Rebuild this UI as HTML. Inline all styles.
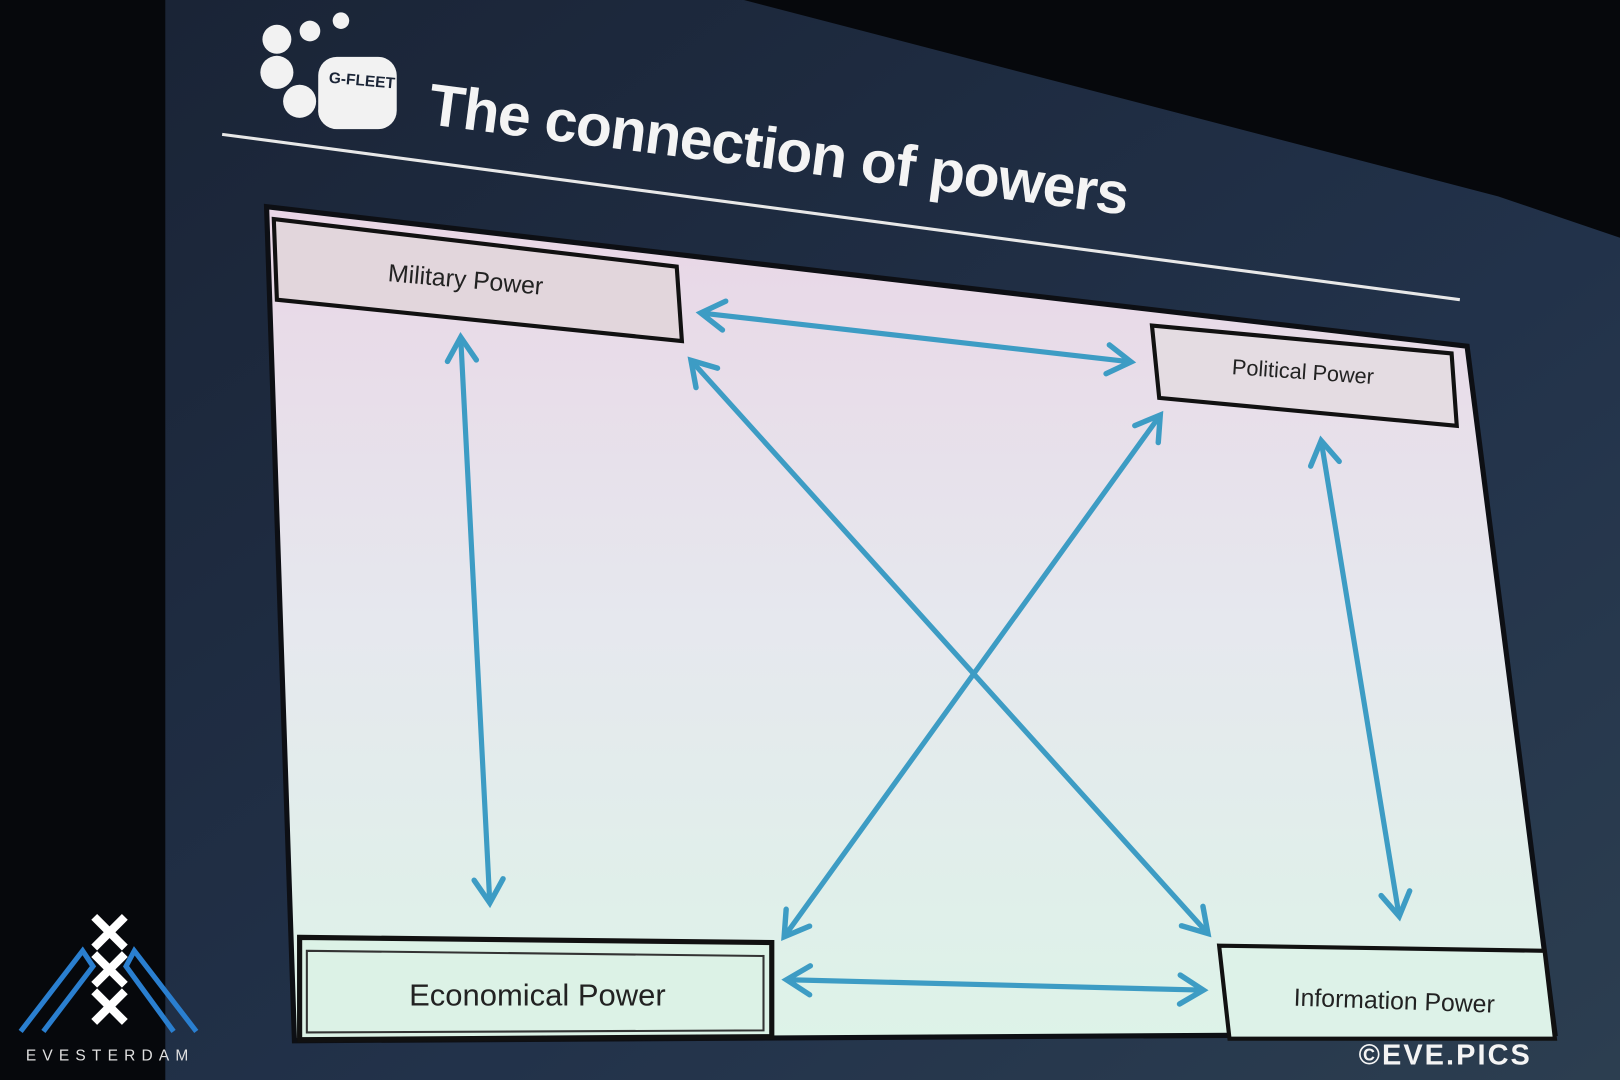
<!DOCTYPE html>
<html><head><meta charset="utf-8"><style>
html,body{margin:0;padding:0;background:#05070b;overflow:hidden}
svg{display:block}
</style></head><body>
<svg width="1620" height="1080" viewBox="0 0 1568 1045" preserveAspectRatio="none" xmlns="http://www.w3.org/2000/svg">
<defs>
<linearGradient id="bg" x1="0" y1="0" x2="0" y2="1">
<stop offset="0" stop-color="#e9d6e6"/><stop offset="0.5" stop-color="#e6e8ee"/><stop offset="1" stop-color="#ddf3e8"/>
</linearGradient>
<linearGradient id="scr" x1="0" y1="0" x2="1" y2="1">
<stop offset="0" stop-color="#1a2436"/><stop offset="0.6" stop-color="#22324a"/><stop offset="1" stop-color="#2c3e50"/>
</linearGradient>
<marker id="ah" viewBox="0 0 20 20" refX="14" refY="10" markerWidth="7" markerHeight="7" orient="auto-start-reverse" markerUnits="strokeWidth">
<path d="M2 2 L15 10 L2 18" fill="none" stroke="#3d9cc4" stroke-width="3" stroke-linecap="round"/>
</marker>
</defs>
<rect width="1568" height="1045" fill="#06080c"/>
<polygon points="160,0 720,0 1450,190 1568,230 1568,1045 160,1045" fill="url(#scr)"/>
<!-- logo dots -->
<g fill="#f2f2f2">
<circle cx="268" cy="38" r="14"/><circle cx="268" cy="70" r="16"/><circle cx="290" cy="98" r="16"/><circle cx="322" cy="108" r="14"/>
<circle cx="300" cy="30" r="10"/><circle cx="330" cy="20" r="8"/>
<rect x="308" y="55" width="76" height="70" rx="18"/>
</g>
<text x="318" y="80" font-family="Liberation Sans,sans-serif" font-weight="bold" font-size="15" fill="#1a2436" transform="rotate(5 318 80)">G-FLEET</text>
<line x1="215" y1="130" x2="1413" y2="290" stroke="#e8e8e8" stroke-width="3"/>
<text x="413" y="120" font-family="Liberation Sans,sans-serif" font-weight="bold" font-size="57" letter-spacing="-1" fill="#f4f4f4" transform="rotate(7.4 413 120)">The connection of powers</text>
<!-- panel -->
<polygon points="258,200 1420,335 1505,1000 285,1007" fill="url(#bg)" stroke="#0d0f14" stroke-width="5"/>
<!-- boxes -->
<polygon points="265,212 655,258 660,330 268,290" fill="#e2d6dc" stroke="#111" stroke-width="4"/>
<text x="375" y="272" font-family="Liberation Sans,sans-serif" font-size="24" fill="#222" transform="rotate(5 375 272)">Military Power</text>
<polygon points="1115,315 1405,342 1410,412 1122,385" fill="#e4dce2" stroke="#111" stroke-width="4"/>
<text x="1192" y="362" font-family="Liberation Sans,sans-serif" font-size="21" fill="#222" transform="rotate(4 1192 362)">Political Power</text>
<polygon points="290,907 747,912 747,1003 290,1006" fill="#dcf2e6" stroke="#111" stroke-width="5"/>
<polygon points="297,920 739,925 739,997 297,999" fill="none" stroke="#333" stroke-width="2"/>
<text x="396" y="973" font-family="Liberation Sans,sans-serif" font-size="30" fill="#222">Economical Power</text>
<polygon points="1180,915 1495,920 1505,1005 1190,1005" fill="#ddf2e8" stroke="#111" stroke-width="4"/>
<text x="1252" y="973" font-family="Liberation Sans,sans-serif" font-size="24" fill="#222" transform="rotate(2 1252 973)">Information Power</text>
<!-- arrows -->
<g stroke="#3d9cc4" stroke-width="5" fill="none" stroke-linecap="round" marker-start="url(#ah)" marker-end="url(#ah)">
<line x1="680" y1="303" x2="1093" y2="350"/>
<line x1="446" y1="328" x2="474" y2="872"/>
<line x1="670" y1="350" x2="1168" y2="902"/>
<line x1="1122" y1="403" x2="760" y2="905"/>
<line x1="1279" y1="428" x2="1354" y2="885"/>
<line x1="763" y1="948" x2="1163" y2="958"/>
</g>
<!-- watermarks -->
<g stroke="#fff" stroke-width="8" stroke-linecap="square">
<path d="M94 890 L118 914 M118 890 L94 914"/><path d="M94 926 L118 950 M118 926 L94 950"/><path d="M94 962 L118 986 M118 962 L94 986"/>
</g>
<path d="M20 998 L80 920 L90 935 L42 998 M190 998 L130 920 L122 935 L168 998" stroke="#2a7fd0" stroke-width="5" fill="none"/>
<text x="25" y="1026" font-family="Liberation Sans,sans-serif" font-size="15" letter-spacing="6" fill="#e0e0e0">EVESTERDAM</text>
<text x="1315" y="1030" font-family="Liberation Sans,sans-serif" font-weight="bold" font-size="28" fill="#f4f4f4" letter-spacing="2">©EVE.PICS</text>
</svg>
</body></html>
